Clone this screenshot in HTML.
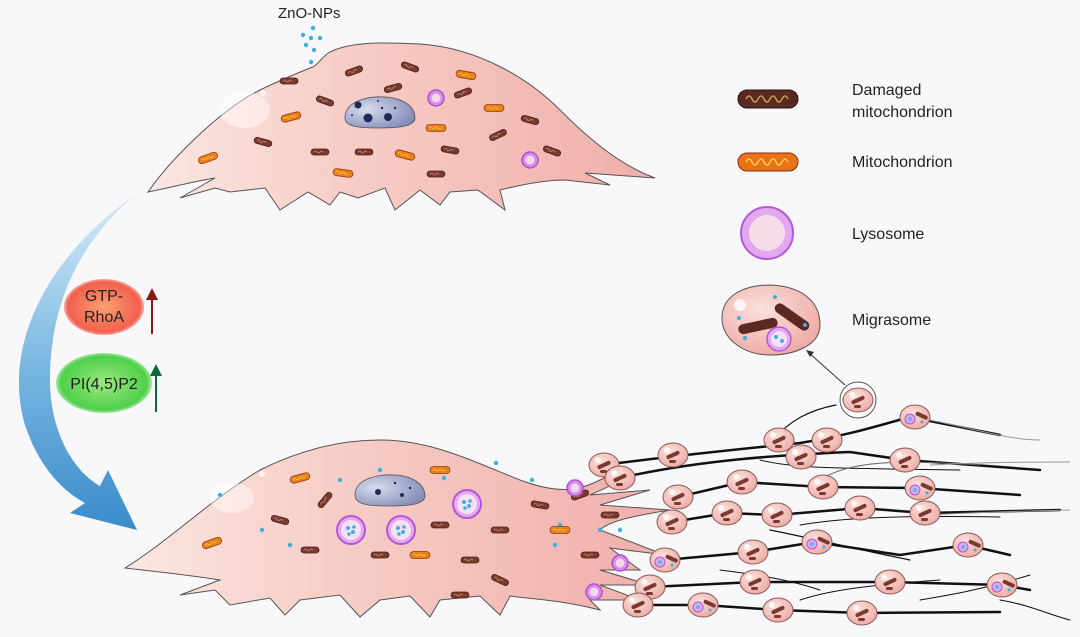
<!DOCTYPE html>
<html><head><meta charset="utf-8"><style>
html,body{margin:0;padding:0;background:#f8f8fb;}
svg{display:block;}
text{font-family:"Liberation Sans",Arial,sans-serif;fill:#222;}
</style></head><body>
<svg width="1080" height="637" viewBox="0 0 1080 637" xmlns="http://www.w3.org/2000/svg">
<defs>
<linearGradient id="cell" x1="0" x2="1" y1="0" y2="0"><stop offset="0" stop-color="#fbe6e2"/><stop offset="0.35" stop-color="#f7d0c9"/><stop offset="1" stop-color="#f0aeaa"/></linearGradient>
<linearGradient id="arr" x1="0" y1="0" x2="0" y2="1"><stop offset="0" stop-color="#d8ecf8"/><stop offset="0.5" stop-color="#7ab8e2"/><stop offset="1" stop-color="#3b8bcc"/></linearGradient>
<radialGradient id="nuc" cx="0.3" cy="0.4" r="0.8"><stop offset="0" stop-color="#d8dcec"/><stop offset="1" stop-color="#7d86b4"/></radialGradient>
<radialGradient id="red" cx="0.5" cy="0.5" r="0.6"><stop offset="0" stop-color="#f8a070"/><stop offset="0.75" stop-color="#f2604f"/><stop offset="1" stop-color="#f8c0b0" stop-opacity="0"/></radialGradient>
<radialGradient id="grn" cx="0.5" cy="0.5" r="0.6"><stop offset="0" stop-color="#9ee880"/><stop offset="0.75" stop-color="#4fd04a"/><stop offset="1" stop-color="#c0f0c0" stop-opacity="0"/></radialGradient>
<radialGradient id="mg" cx="0.4" cy="0.35" r="0.7"><stop offset="0" stop-color="#fbe1dc"/><stop offset="1" stop-color="#eea9a4"/></radialGradient>
<g id="dm"><rect x="-9" y="-3" width="18" height="6" rx="3" fill="#7a3a30" stroke="#4a2018" stroke-width="0.8"/><path d="M-6 0 q1.5 -2 3 0 q1.5 2 3 0 q1.5 -2 3 0" stroke="#c98a6a" fill="none" stroke-width="0.8"/></g>
<g id="m"><rect x="-10" y="-3.5" width="20" height="7" rx="3.5" fill="#e8821a" stroke="#9a3a10" stroke-width="0.8"/><path d="M-7 0 q1.5 -2 3 0 q1.5 2 3 0 q1.5 -2 3 0 q1.5 2 3 0" stroke="#f8c840" fill="none" stroke-width="0.8"/></g>
<g id="ly"><circle r="8" fill="#d78ee8" stroke="#b050d0" stroke-width="1.5"/><circle r="4.5" fill="#f6d8ec"/></g>
<g id="lyn"><circle r="14" fill="#e6a8f0" stroke="#b456d6" stroke-width="2"/><circle r="10" fill="#f6e0f2"/><circle cx="-3" cy="-2" r="2" fill="#3cb0e0"/><circle cx="2" cy="2" r="2" fill="#3cb0e0"/><circle cx="3" cy="-3" r="1.8" fill="#3cb0e0"/><circle cx="-2" cy="4" r="1.8" fill="#3cb0e0"/></g>
<g id="mig"><ellipse rx="15" ry="12" fill="url(#mg)" stroke="#8a5a55" stroke-width="1"/><circle cx="-6" cy="-5" r="3" fill="#fff" opacity="0.8"/><rect x="-7" y="-2" width="14" height="4" rx="2" fill="#7a3a30" transform="rotate(-25)"/><rect x="-4" y="5" width="7" height="3" rx="1.5" fill="#7a3a30"/></g>
<g id="migl"><ellipse rx="15" ry="12" fill="url(#mg)" stroke="#8a5a55" stroke-width="1"/><circle cx="-5" cy="2" r="5" fill="#e0a8f0" stroke="#b456d6"/><circle cx="-5" cy="2" r="2" fill="#5ab8e6"/><rect x="-1" y="-6" width="13" height="4" rx="2" fill="#7a3a30" transform="rotate(25)"/><circle cx="7" cy="5" r="1.5" fill="#3cb0e0"/></g>
</defs>
<rect width="1080" height="637" fill="#f8f8fb"/>

<!-- big arrow -->
<path d="M135 195 C55 250 0 340 25 425 C40 470 65 492 85 503 L70 513 L137 530 L108 470 L100 486 C72 470 50 430 50 380 C50 300 82 240 135 195 Z" fill="url(#arr)"/>

<!-- labels -->
<ellipse cx="104" cy="307" rx="40" ry="28" fill="url(#red)"/>
<text x="104" y="301" font-size="16" text-anchor="middle">GTP-</text>
<text x="104" y="322" font-size="16" text-anchor="middle">RhoA</text>
<line x1="152" y1="334" x2="152" y2="296" stroke="#8a1818" stroke-width="2"/><path d="M146 300 L152 288 L158 300Z" fill="#8a1818"/>
<ellipse cx="104" cy="383" rx="48" ry="30" fill="url(#grn)"/>
<text x="104" y="389" font-size="16" text-anchor="middle">PI(4,5)P2</text>
<line x1="156" y1="412" x2="156" y2="372" stroke="#0e6a3a" stroke-width="2"/><path d="M150 376 L156 364 L162 376Z" fill="#0e6a3a"/>

<!-- top cell -->
<text x="278" y="18" font-size="15">ZnO-NPs</text>
<g fill="#3cb0e0"><circle cx="313" cy="28" r="2.2"/><circle cx="303" cy="35" r="2.2"/><circle cx="311" cy="38" r="2.2"/><circle cx="320" cy="38" r="2.2"/><circle cx="306" cy="45" r="2.2"/><circle cx="314" cy="50" r="2.2"/><circle cx="311" cy="62" r="2.2"/><circle cx="319" cy="73" r="2.2"/></g>
<path d="M148 192 C170 160 220 110 260 90 C285 78 300 72 310 68 C318 66 320 58 330 52 C350 42 380 42 420 44 C480 48 530 80 560 110 C590 140 620 165 655 178 L585 173 L610 185 L565 180 C545 180 520 185 500 190 L505 210 L478 190 L450 192 L440 205 L420 190 L395 210 L385 188 L358 198 L340 192 L330 205 L308 192 L280 210 L265 188 L230 192 L215 188 L180 198 L215 178 C190 182 170 188 148 192 Z" fill="url(#cell)" stroke="#555" stroke-width="1"/>
<ellipse cx="245" cy="110" rx="25" ry="18" fill="#fff" opacity="0.45"/>
<circle cx="263" cy="93" r="3" fill="#fff" opacity="0.7"/>
<path d="M345 118 C345 100 370 96 385 97 C405 98 415 108 415 118 C415 126 400 128 380 128 C360 128 345 127 345 118Z" fill="url(#nuc)" stroke="#555" stroke-width="0.8"/>
<g fill="#1e2a5a"><circle cx="358" cy="105" r="3.5"/><circle cx="368" cy="118" r="4.5"/><circle cx="388" cy="117" r="4"/><circle cx="382" cy="108" r="1.2"/><circle cx="395" cy="108" r="1.2"/><circle cx="378" cy="101" r="1"/><circle cx="352" cy="115" r="1"/></g>
<use href="#ly" x="436" y="98"/><use href="#ly" x="530" y="160"/>
<use href="#m" x="291" y="117" transform="rotate(-15 291 117)"/><use href="#m" x="208" y="158" transform="rotate(-20 208 158)"/><use href="#m" x="343" y="173" transform="rotate(8 343 173)"/><use href="#m" x="436" y="128"/><use href="#m" x="466" y="75" transform="rotate(10 466 75)"/><use href="#m" x="494" y="108"/><use href="#m" x="405" y="155" transform="rotate(15 405 155)"/>
<use href="#dm" x="289" y="81"/><use href="#dm" x="354" y="71" transform="rotate(-20 354 71)"/><use href="#dm" x="410" y="67" transform="rotate(20 410 67)"/><use href="#dm" x="393" y="88" transform="rotate(-15 393 88)"/><use href="#dm" x="325" y="101" transform="rotate(20 325 101)"/><use href="#dm" x="263" y="142" transform="rotate(15 263 142)"/><use href="#dm" x="320" y="152"/><use href="#dm" x="364" y="152"/><use href="#dm" x="463" y="93" transform="rotate(-20 463 93)"/><use href="#dm" x="450" y="150" transform="rotate(10 450 150)"/><use href="#dm" x="498" y="135" transform="rotate(-25 498 135)"/><use href="#dm" x="530" y="120" transform="rotate(15 530 120)"/><use href="#dm" x="552" y="151" transform="rotate(20 552 151)"/><use href="#dm" x="436" y="174"/><use href="#dm" x="495" y="162" transform="rotate(30 495 162) scale(0.5)"/>

<!-- fibers -->
<g fill="none" stroke="#111" stroke-linecap="round">
<path d="M603 465 C680 455 750 448 800 443 C850 435 880 425 910 417 L1000 435" stroke-width="2.5"/>
<path d="M620 478 C700 460 780 455 850 452 L905 460 L1040 470" stroke-width="2.5"/>
<path d="M678 497 L742 482 L822 487 L918 488 L1020 495" stroke-width="2.5"/>
<path d="M672 522 L727 513 L777 515 L860 508 L925 513 L1060 510" stroke-width="2.5"/>
<path d="M665 560 L753 552 L815 542 L900 555 L967 545 L1010 555" stroke-width="2.5"/>
<path d="M650 587 L755 582 L890 582 L1002 585 L1030 590" stroke-width="2.5"/>
<path d="M638 605 L703 605 L778 610 L862 613 L1000 612" stroke-width="2.5"/>
<path d="M773 440 C790 420 810 410 836 405" stroke-width="1.2"/>
<path d="M760 460 C800 470 860 468 960 470" stroke-width="1"/>
<path d="M770 530 C820 540 860 550 910 560" stroke-width="1.2"/>
<path d="M820 480 C850 460 900 460 980 465" stroke-width="1" stroke="#666"/>
<path d="M800 525 C830 520 870 515 1000 517" stroke-width="1"/>
<path d="M720 570 C760 575 790 580 820 590" stroke-width="1"/>
<path d="M800 600 C830 590 870 585 940 580" stroke-width="1"/>
<path d="M920 600 C950 595 980 590 1030 575" stroke-width="1"/>
<path d="M1000 600 C1030 605 1050 615 1070 620" stroke-width="1"/>
</g>
<g fill="none" stroke="#999" stroke-width="1"><path d="M930 420 C980 430 1010 440 1040 440"/><path d="M930 465 C990 462 1030 462 1070 462"/><path d="M930 515 C980 512 1030 511 1070 510"/></g>
<circle cx="858" cy="400" r="18" fill="#fff" stroke="#555" stroke-width="1"/>
<line x1="845" y1="385" x2="808" y2="352" stroke="#333" stroke-width="1"/><path d="M806 350 L814 352 L810 357Z" fill="#333"/>

<!-- bottom cell -->
<path d="M125 568 C170 540 210 500 260 470 C300 450 340 440 380 440 C430 440 470 460 520 480 C560 495 580 490 600 480 L620 470 C630 480 600 490 590 495 L650 490 L600 505 L670 510 C640 515 610 520 600 530 L665 555 L610 548 L640 570 L600 570 L650 585 L600 585 L640 600 L590 600 L600 610 C560 600 540 600 510 596 L500 615 L480 596 L440 600 L430 617 L410 596 L380 600 L360 617 L340 595 L300 600 L285 615 L270 598 L230 605 L215 590 L180 595 L220 580 C190 575 160 572 125 568Z" fill="url(#cell)" stroke="#555" stroke-width="1"/>
<ellipse cx="232" cy="498" rx="22" ry="15" fill="#fff" opacity="0.45"/>
<circle cx="262" cy="474" r="3" fill="#fff" opacity="0.7"/>
<path d="M355 495 C355 478 380 474 395 475 C415 476 425 486 425 496 C425 504 410 506 390 506 C370 506 355 505 355 495Z" fill="url(#nuc)" stroke="#555" stroke-width="0.8"/>
<g fill="#1e2a5a"><circle cx="378" cy="492" r="3"/><circle cx="402" cy="495" r="2"/><circle cx="395" cy="483" r="1.2"/><circle cx="410" cy="488" r="1.2"/></g>
<use href="#lyn" x="351" y="530"/><use href="#lyn" x="401" y="530"/><use href="#lyn" x="467" y="504"/>
<g fill="#3cb0e0"><circle cx="220" cy="495" r="2.2"/><circle cx="262" cy="530" r="2.2"/><circle cx="290" cy="545" r="2.2"/><circle cx="340" cy="480" r="2.2"/><circle cx="380" cy="470" r="2.2"/><circle cx="444" cy="478" r="2.2"/><circle cx="496" cy="463" r="2.2"/><circle cx="532" cy="480" r="2.2"/><circle cx="560" cy="525" r="2.2"/><circle cx="600" cy="530" r="2.2"/><circle cx="620" cy="530" r="2.2"/><circle cx="555" cy="545" r="2.2"/></g>
<use href="#m" x="212" y="543" transform="rotate(-20 212 543)"/><use href="#m" x="300" y="478" transform="rotate(-15 300 478)"/><use href="#m" x="420" y="555"/><use href="#m" x="560" y="530"/><use href="#m" x="440" y="470"/>
<use href="#dm" x="325" y="500" transform="rotate(-50 325 500)"/><use href="#dm" x="280" y="520" transform="rotate(15 280 520)"/><use href="#dm" x="310" y="550"/><use href="#dm" x="470" y="560"/><use href="#dm" x="500" y="530"/><use href="#dm" x="440" y="525"/><use href="#dm" x="380" y="555"/><use href="#dm" x="540" y="505" transform="rotate(10 540 505)"/><use href="#dm" x="580" y="495" transform="rotate(-20 580 495)"/><use href="#dm" x="590" y="555"/><use href="#dm" x="610" y="515"/><use href="#dm" x="500" y="580" transform="rotate(25 500 580)"/><use href="#dm" x="460" y="595"/>
<use href="#ly" x="575" y="488"/><use href="#ly" x="620" y="563"/><use href="#ly" x="594" y="592"/>

<!-- migrasomes -->
<use href="#mig" x="858" y="400"/>
<use href="#migl" x="915" y="417"/><use href="#mig" x="779" y="440"/><use href="#mig" x="827" y="440"/><use href="#mig" x="801" y="457"/><use href="#mig" x="905" y="460"/><use href="#mig" x="604" y="465"/><use href="#mig" x="673" y="455"/><use href="#mig" x="620" y="478"/><use href="#mig" x="742" y="482"/><use href="#mig" x="823" y="487"/><use href="#migl" x="920" y="488"/><use href="#mig" x="678" y="497"/><use href="#mig" x="727" y="513"/><use href="#mig" x="777" y="515"/><use href="#mig" x="860" y="508"/><use href="#mig" x="925" y="513"/><use href="#mig" x="672" y="522"/><use href="#mig" x="753" y="552"/><use href="#migl" x="817" y="542"/><use href="#migl" x="968" y="545"/><use href="#migl" x="665" y="560"/><use href="#mig" x="755" y="582"/><use href="#mig" x="890" y="582"/><use href="#migl" x="1002" y="585"/><use href="#mig" x="650" y="587"/><use href="#mig" x="638" y="605"/><use href="#migl" x="703" y="605"/><use href="#mig" x="778" y="610"/><use href="#mig" x="862" y="613"/>

<!-- legend -->
<g transform="translate(768 99)"><rect x="-30" y="-9" width="60" height="18" rx="9" fill="#5a2a22" stroke="#2a1010"/><path d="M-22 0 q3 -6 6 0 q3 6 6 0 q3 -6 6 0 q3 6 6 0 q3 -6 6 0 q3 6 6 0 q3 -6 6 0" stroke="#c8a050" fill="none" stroke-width="1.5"/></g>
<text x="852" y="95" font-size="16">Damaged</text><text x="852" y="117" font-size="16">mitochondrion</text>
<g transform="translate(768 162)"><rect x="-30" y="-9" width="60" height="18" rx="9" fill="#e8721a" stroke="#902a10"/><path d="M-22 0 q3 -6 6 0 q3 6 6 0 q3 -6 6 0 q3 6 6 0 q3 -6 6 0 q3 6 6 0 q3 -6 6 0" stroke="#f8d040" fill="none" stroke-width="1.5"/></g>
<text x="852" y="167" font-size="16">Mitochondrion</text>
<circle cx="767" cy="233" r="26" fill="#e2a8f0" stroke="#b45ad6" stroke-width="2"/><circle cx="767" cy="233" r="18" fill="#f6dde8"/>
<text x="852" y="239" font-size="16">Lysosome</text>
<path d="M722 318 C722 295 745 285 770 285 C800 286 820 300 820 325 C820 345 795 355 770 355 C745 355 722 340 722 318Z" fill="url(#mg)" stroke="#555"/>
<circle cx="740" cy="305" r="6" fill="#fff" opacity="0.8"/>
<rect x="738" y="321" width="40" height="10" rx="5" fill="#5a2a22" transform="rotate(-12 758 326)"/>
<rect x="772" y="312" width="40" height="10" rx="5" fill="#5a2a22" transform="rotate(35 792 317)"/>
<circle cx="779" cy="339" r="12" fill="#e2a8f0" stroke="#b45ad6" stroke-width="1.5"/><circle cx="779" cy="339" r="8" fill="#f6e0f2"/>
<g fill="#3cb0e0"><circle cx="776" cy="337" r="2"/><circle cx="782" cy="341" r="2"/><circle cx="739" cy="318" r="2"/><circle cx="745" cy="338" r="2"/><circle cx="775" cy="297" r="2"/><circle cx="805" cy="325" r="2"/></g>
<text x="852" y="325" font-size="16">Migrasome</text>
</svg>
</body></html>
